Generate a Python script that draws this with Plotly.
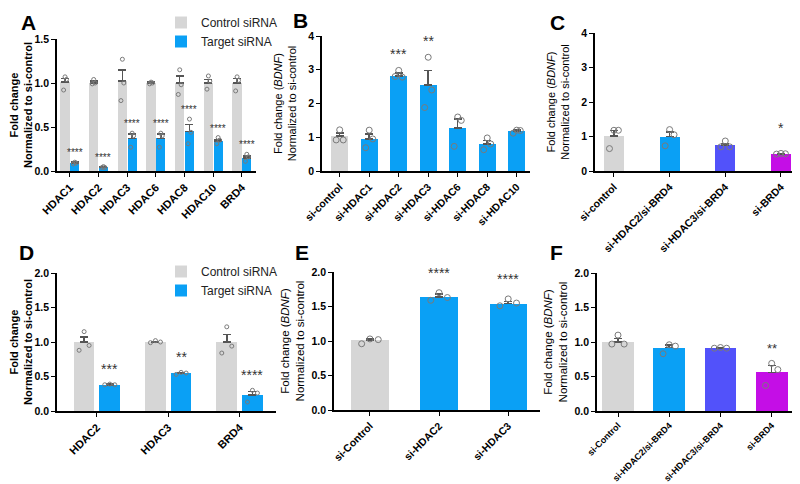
import plotly.graph_objects as go
from plotly.subplots import make_subplots

# ---- data ----
# A: knockdown efficiency
a_genes = ["HDAC1", "HDAC2", "HDAC3", "HDAC6", "HDAC8", "HDAC10", "BRD4"]
a_ctrl_mean = [1.01, 1.00, 1.02, 1.00, 1.00, 1.00, 1.00]
a_ctrl_sem = [0.04, 0.02, 0.13, 0.01, 0.08, 0.04, 0.05]
a_ctrl_pts = [[1.07, 1.04, 0.92], [1.04, 1.00, 0.99], [1.27, 1.00, 0.80], [1.01, 1.00, 0.99],
              [1.15, 0.98, 0.87], [1.08, 1.02, 0.93], [1.07, 1.03, 0.91]]
a_tgt_mean = [0.09, 0.04, 0.37, 0.37, 0.45, 0.34, 0.15]
a_tgt_sem = [0.01, 0.005, 0.05, 0.05, 0.08, 0.02, 0.02]
a_tgt_pts = [[0.10, 0.09, 0.08], [0.05, 0.04, 0.04], [0.43, 0.40, 0.27], [0.43, 0.40, 0.27],
             [0.59, 0.44, 0.31], [0.38, 0.35, 0.31], [0.19, 0.16, 0.11]]
a_stars = ["****", "****", "****", "****", "****", "****", "****"]

# B: BDNF after single knockdowns
b_groups = ["si-control", "si-HDAC1", "si-HDAC2", "si-HDAC3", "si-HDAC6", "si-HDAC8", "si-HDAC10"]
b_mean = [1.03, 0.95, 2.82, 2.55, 1.27, 0.80, 1.18]
b_sem = [0.10, 0.15, 0.08, 0.43, 0.27, 0.10, 0.03]
b_pts = [[1.22, 0.92, 0.92], [1.21, 0.95, 0.69], [2.98, 2.78, 2.80], [3.37, 2.40, 1.88],
         [1.60, 1.50, 0.73], [0.98, 0.80, 0.63], [1.21, 1.20, 1.12]]
b_stars = ["", "", "***", "**", "", "", ""]

# C: BDNF after combined knockdowns
c_groups = ["si-control", "si-HDAC2/si-BRD4", "si-HDAC3/si-BRD4", "si-BRD4"]
c_mean = [1.02, 1.00, 0.75, 0.50]
c_sem = [0.15, 0.13, 0.05, 0.01]
c_pts = [[1.18, 1.18, 0.65], [1.20, 1.05, 0.73], [0.87, 0.70, 0.70], [0.51, 0.50, 0.49]]
c_stars = ["", "", "", "*"]

# D: knockdown efficiency (second cell line)
d_genes = ["HDAC2", "HDAC3", "BRD4"]
d_ctrl_mean = [1.00, 1.00, 1.00]
d_ctrl_sem = [0.07, 0.01, 0.11]
d_ctrl_pts = [[1.15, 0.95, 0.88], [1.02, 1.00, 0.99], [1.22, 0.94, 0.84]]
d_tgt_mean = [0.38, 0.55, 0.23]
d_tgt_sem = [0.01, 0.01, 0.05]
d_tgt_pts = [[0.39, 0.38, 0.38], [0.56, 0.55, 0.53], [0.30, 0.26, 0.13]]
d_stars = ["***", "**", "****"]

# E
e_groups = ["si-Control", "si-HDAC2", "si-HDAC3"]
e_mean = [1.01, 1.64, 1.54]
e_sem = [0.02, 0.04, 0.03]
e_pts = [[1.03, 1.02, 0.96], [1.70, 1.63, 1.59], [1.61, 1.55, 1.51]]
e_stars = ["", "****", "****"]

# F
f_groups = ["si-Control", "si-HDAC2/si-BRD4", "si-HDAC3/si-BRD4", "si-BRD4"]
f_mean = [1.00, 0.92, 0.91, 0.56]
f_sem = [0.05, 0.04, 0.01, 0.10]
f_pts = [[1.10, 0.97, 0.97], [0.96, 0.94, 0.83], [0.92, 0.91, 0.91], [0.69, 0.60, 0.37]]
f_stars = ["", "", "", "**"]

# ---- style ----
GRAY = "#d6d6d6"
BLUE = "#0aa0f5"
INDIGO = "#5252fa"
MAGENTA = "#c40ee6"
PT = "#7a7a7a"
ERR = "#555555"
FONT = "Liberation Sans, Arial, sans-serif"
W, H = 800, 484
JIT = [0, 1, -1]

fig = make_subplots(rows=2, cols=3)


def add_series(row, col, xs, means, sems, pts, color, width, msize, spread,
               name=None, legend="legend"):
    fig.add_trace(go.Bar(
        x=xs, y=means, width=width, marker=dict(color=color, line_width=0),
        error_y=dict(type="data", symmetric=False, array=sems, arrayminus=[0] * len(sems),
                     color=ERR, thickness=1.5, width=4),
        name=name, showlegend=name is not None, legend=legend,
    ), row=row, col=col)
    px, py = [], []
    for x, p in zip(xs, pts):
        for k, v in enumerate(p):
            px.append(x + JIT[k] * spread)
            py.append(v)
    fig.add_trace(go.Scatter(
        x=px, y=py, mode="markers", showlegend=False, hoverinfo="skip",
        marker=dict(symbol="circle-open", size=msize, color=PT, line=dict(width=1, color=PT)),
    ), row=row, col=col)


def add_stars(axis_n, xs, means, sems, pts, stars, size, yshift=0):
    for x, m, s, p, t in zip(xs, means, sems, pts, stars):
        if not t:
            continue
        fig.add_annotation(
            x=x, y=max(max(p), m + s), xref=f"x{axis_n}", yref=f"y{axis_n}",
            text=t, showarrow=False, yanchor="bottom", yshift=yshift,
            font=dict(size=size, color="#333333", family=FONT),
        )


def style_axes(n, xdom, ydom, labels, xrange, yrange, dtick, fmt, title, bold_title,
               xfont=10.5, tsize=11, standoff=4):
    ax = "" if n == 1 else str(n)
    fig.layout["xaxis" + ax].update(
        domain=[xdom[0] / W, xdom[1] / W], range=xrange,
        tickvals=list(range(len(labels))), ticktext=labels, tickangle=-45,
        showline=True, linecolor="black", linewidth=1.5, ticks="outside", ticklen=4,
        tickwidth=1.3, tickcolor="black", showgrid=False, zeroline=False,
        tickfont=dict(size=xfont, color="black", family=FONT, weight="bold"),
        automargin=False, fixedrange=True,
    )
    fig.layout["yaxis" + ax].update(
        domain=[1 - ydom[1] / H, 1 - ydom[0] / H], range=yrange, dtick=dtick, tickformat=fmt,
        showline=True, linecolor="black", linewidth=1.5, ticks="outside", ticklen=4,
        tickwidth=1.3, tickcolor="black", showgrid=False, zeroline=False,
        tickfont=dict(size=10.5, color="black", family=FONT, weight="bold"),
        automargin=False, fixedrange=True,
        title=dict(text=title, standoff=standoff,
                   font=dict(size=tsize, color="black", family=FONT,
                             weight="bold" if bold_title else "normal")),
    )


title_plain = "Fold change<br>Normalized to si-control"
title_bdnf = "Fold change (<i>BDNF</i>)<br>Normalized to si-control"

# A
xa = list(range(len(a_genes)))
xa_c = [x - 0.17 for x in xa]
xa_t = [x + 0.17 for x in xa]
add_series(1, 1, xa_c, a_ctrl_mean, a_ctrl_sem, a_ctrl_pts, GRAY, 0.32, 4, 0.05, "Control siRNA", "legend")
add_series(1, 1, xa_t, a_tgt_mean, a_tgt_sem, a_tgt_pts, BLUE, 0.32, 4, 0.05, "Target siRNA", "legend")
add_stars(1, xa_t, a_tgt_mean, a_tgt_sem, a_tgt_pts, a_stars, 10, 2)
style_axes(1, (49, 248), (31, 163), a_genes, [-0.45, 6.49], [0, 1.5], 0.5, ".1f", title_plain, True, 11)

# B
xb = list(range(len(b_groups)))
add_series(1, 2, xb, b_mean, b_sem, b_pts, [GRAY] + [BLUE] * 6, 0.58, 6, 0.12)
add_stars(2, xb, b_mean, b_sem, b_pts, b_stars, 14, 6)
style_axes(2, (314, 522), (28, 163), b_groups, [-0.6, 6.45], [0, 4], 1, "d", title_bdnf, False, 10.5, 11, 9)

# C
xc = list(range(len(c_groups)))
add_series(1, 3, xc, c_mean, c_sem, c_pts, [GRAY, BLUE, INDIGO, MAGENTA], 0.36, 6, 0.08)
add_stars(3, xc, c_mean, c_sem, c_pts, c_stars, 14, 15)
style_axes(3, (587, 788), (25, 163), c_groups, [-0.34, 3.27], [0, 4], 1, "d", title_bdnf, False, 10.5, 11, 9)

# D
xd = list(range(len(d_genes)))
xd_c = [x - 0.18 for x in xd]
xd_t = [x + 0.18 for x in xd]
add_series(2, 1, xd_c, d_ctrl_mean, d_ctrl_sem, d_ctrl_pts, GRAY, 0.29, 4, 0.07, "Control siRNA", "legend2")
add_series(2, 1, xd_t, d_tgt_mean, d_tgt_sem, d_tgt_pts, BLUE, 0.29, 4, 0.07, "Target siRNA", "legend2")
add_stars(4, xd_t, d_tgt_mean, d_tgt_sem, d_tgt_pts, d_stars, 14, 5)
style_axes(4, (49, 268), (265, 403), d_genes, [-0.56, 2.51], [0, 2], 0.5, ".1f", title_plain, True, 11)

# E
xe = list(range(len(e_groups)))
add_series(2, 2, xe, e_mean, e_sem, e_pts, [GRAY, BLUE, BLUE], 0.54, 6, 0.12)
add_stars(5, xe, e_mean, e_sem, e_pts, e_stars, 14, 10)
style_axes(5, (326, 532), (264, 402), e_groups, [-0.52, 2.46], [0, 2], 0.5, ".1f", title_bdnf, False, 10.5, 11.5, 5)

# F
xf = list(range(len(f_groups)))
add_series(2, 3, xf, f_mean, f_sem, f_pts, [GRAY, BLUE, INDIGO, MAGENTA], 0.62, 6, 0.12)
add_stars(6, xf, f_mean, f_sem, f_pts, f_stars, 13, 5)
style_axes(6, (589, 797), (265, 403), f_groups, [-0.41, 3.65], [0, 2], 0.5, ".1f", title_bdnf, False, 9, 11.5, 5)

# panel letters
for letter, x, y in [("A", 20, 14), ("B", 292, 13), ("C", 549, 14),
                     ("D", 18, 244), ("E", 294, 244), ("F", 548, 244)]:
    fig.add_annotation(x=x / W, y=1 - y / H, xref="paper", yref="paper", text=letter,
                       showarrow=False, xanchor="center", yanchor="middle", borderpad=0,
                       font=dict(size=21, color="black", family=FONT, weight="bold"))

leg = dict(xanchor="left", yanchor="top", bgcolor="rgba(0,0,0,0)",
           font=dict(size=12, color="#222222", family=FONT), tracegroupgap=0)
fig.update_layout(
    width=W, height=H, margin=dict(l=0, r=0, t=0, b=0),
    plot_bgcolor="white", paper_bgcolor="white",
    barmode="overlay", bargap=0,
    legend=dict(x=153 / W, y=1.0, **leg),
    legend2=dict(x=153 / W, y=1 - 249 / H, **leg),
    font=dict(family=FONT),
)

fig.write_html("out.html")
